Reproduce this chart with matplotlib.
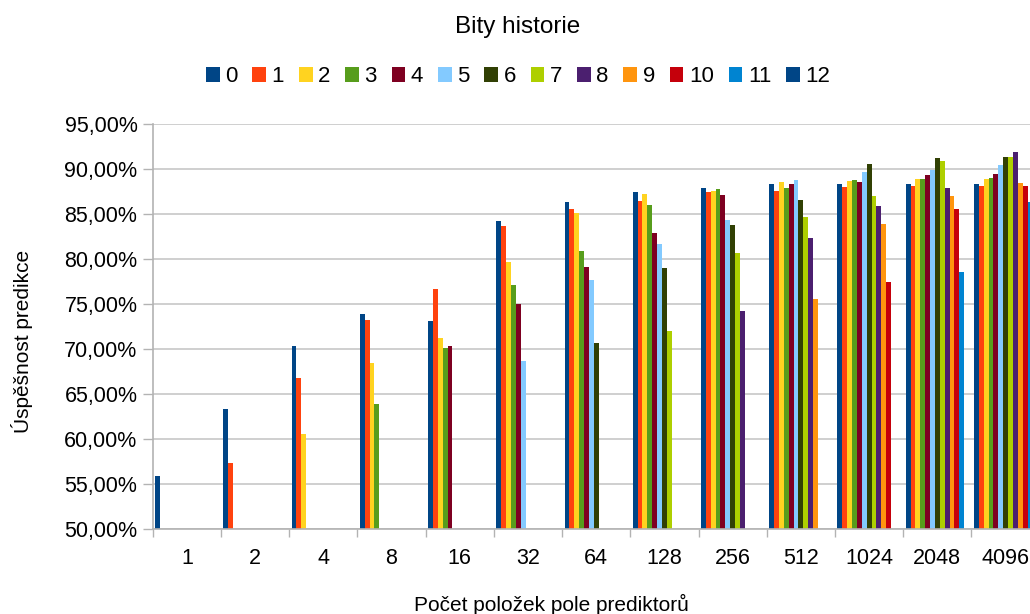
import numpy as np
import matplotlib
matplotlib.use('Agg')
import matplotlib.pyplot as plt
from matplotlib.ticker import FuncFormatter

plt.rcParams['font.family'] = ['Liberation Sans', 'DejaVu Sans']

# velikost pole prediktorů (osa x)
kategorie = ['1', '2', '4', '8', '16', '32', '64', '128', '256', '512', '1024', '2048', '4096']
# počet bitů historie (série)
bity = ['0', '1', '2', '3', '4', '5', '6', '7', '8', '9', '10', '11', '12']

# úspěšnost predikce [%] pro každou velikost pole, série 0..n
p1 = [55.9]
p2 = [63.3, 57.3]
p4 = [70.3, 66.8, 60.6]
p8 = [73.9, 73.2, 68.4, 63.9]
p16 = [73.1, 76.7, 71.2, 70.1, 70.3]
p32 = [84.2, 83.7, 79.7, 77.1, 75.0, 68.7]
p64 = [86.3, 85.6, 85.1, 80.9, 79.1, 77.7, 70.7]
p128 = [87.4, 86.4, 87.2, 86.0, 82.9, 81.7, 79.0, 72.0]
p256 = [87.9, 87.4, 87.6, 87.8, 87.1, 84.3, 83.8, 80.7, 74.2]
p512 = [88.3, 87.6, 88.6, 87.9, 88.3, 88.8, 86.6, 84.7, 82.3, 75.6]
p1024 = [88.3, 88.0, 88.7, 88.8, 88.6, 89.7, 90.6, 87.0, 85.9, 83.9, 77.4]
p2048 = [88.3, 88.1, 88.9, 88.9, 89.3, 89.9, 91.2, 90.9, 87.9, 87.0, 85.6, 78.6]
p4096 = [88.3, 88.1, 88.9, 89.0, 89.4, 90.4, 91.3, 91.3, 91.9, 88.4, 88.1, 86.3, 80.0]

barvy = ['#004586', '#ff420e', '#ffd320', '#579d1c', '#7e0021', '#83caff',
         '#314004', '#aecf00', '#4b1f6f', '#ff950e', '#c5000b', '#0084d1', '#004586']

radky = [p1, p2, p4, p8, p16, p32, p64, p128, p256, p512, p1024, p2048, p4096]
n_kat = len(kategorie)
n_ser = len(bity)
data = np.full((n_kat, n_ser), np.nan)
for i, r in enumerate(radky):
    data[i, :len(r)] = r

W, H = 1030, 614
fig = plt.figure(figsize=(W / 100, H / 100), dpi=100)
# oblast grafu přesahuje pravý okraj obrázku
ax = fig.add_axes([152.7 / W, (H - 529) / H, 887 / W, 405 / H])

sirka = 1 / (n_ser + 1)
x = np.arange(n_kat)
for k in range(n_ser):
    ax.bar(x + (k + 1) * sirka, data[:, k], width=sirka, bottom=0,
           color=barvy[k], label=bity[k], linewidth=0)

ax.set_xlim(0, n_kat)
ax.set_ylim(50, 95)
ax.set_yticks(np.arange(50, 96, 5))
ax.yaxis.set_major_formatter(FuncFormatter(lambda v, _: f'{v:.2f}%'.replace('.', ',')))
ax.grid(axis='y', color='#cfcfcf', linewidth=1.4)
ax.set_axisbelow(True)

ax.set_xticks(np.arange(0, n_kat + 1))
ax.set_xticklabels([])
ax.set_xticks(x + 0.5, minor=True)
ax.set_xticklabels(kategorie, minor=True)
ax.tick_params(axis='x', which='major', length=6, width=1, color='#b3b3b3', direction='out')
ax.tick_params(axis='x', which='minor', length=0, pad=14, labelsize=15.5)
ax.tick_params(axis='y', length=7, width=1, color='#b3b3b3', pad=4, labelsize=15.5)

for s in ['top', 'right']:
    ax.spines[s].set_visible(False)
for s in ['left', 'bottom']:
    ax.spines[s].set_color('#b3b3b3')
    ax.spines[s].set_linewidth(1.2)

fig.text(518 / W, (H - 33) / H, 'Bity historie', ha='center', va='baseline', fontsize=17.5)
fig.text(551 / W, (H - 611) / H, 'Počet položek pole prediktorů', ha='center', va='baseline', fontsize=15)
fig.text(22 / W, (H - 341) / H, 'Úspěšnost predikce', ha='center', va='center',
         rotation=90, fontsize=15)

fig.legend(loc='center', bbox_to_anchor=(518 / W, (H - 77) / H), ncol=n_ser, frameon=False,
           fontsize=16, handlelength=0.62, handleheight=0.62, handletextpad=0.25,
           columnspacing=0.66, borderpad=0)

fig.savefig('out.png', dpi=100)
